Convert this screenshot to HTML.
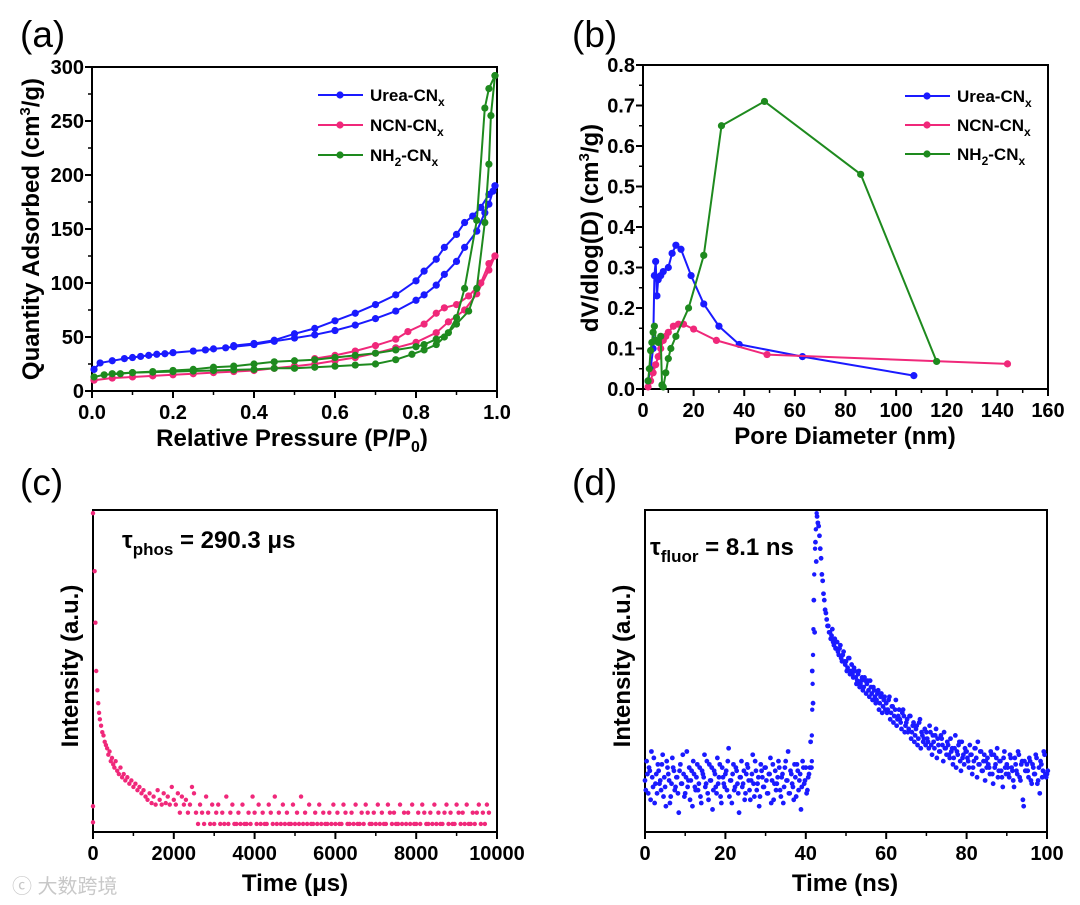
<!DOCTYPE html>
<html><head><meta charset="utf-8"><style>
html,body{margin:0;padding:0;background:#fff;}
svg{display:block;font-family:"Liberation Sans","Noto Sans CJK SC",sans-serif;}
</style></head><body>
<svg id="fig" width="1080" height="905" viewBox="0 0 1080 905" xmlns="http://www.w3.org/2000/svg"></svg>
<script>
// ---------- Panel (a) data ----------
const aTicksX=[0,0.2,0.4,0.6,0.8,1.0];
const aTicksY=[0,50,100,150,200,250,300];
const ureaAdsP=[0.005,0.02,0.05,0.08,0.1,0.12,0.14,0.16,0.18,0.2,0.25,0.28,0.3,0.33,0.35,0.4,0.45,0.5,0.55,0.6,0.65,0.7,0.75,0.8,0.82,0.85,0.87,0.9,0.92,0.95,0.97,0.98,0.99,0.995];
const ureaAdsQ=[20,26,28,30,31,32,33,34,34.5,35.5,37,38,39,40,41,43,46,49,52,56,61,67,74,84,89,98,108,120,133,148,165,173,185,190];
const ureaDesP=[0.995,0.98,0.96,0.94,0.92,0.9,0.87,0.85,0.82,0.8,0.75,0.7,0.65,0.6,0.55,0.5,0.45,0.4,0.35];
const ureaDesQ=[190,182,170,162,156,145,133,122,111,102,89,80,72,65,58,53,47,44,42];
const ncnAdsP=[0.005,0.05,0.1,0.15,0.2,0.25,0.3,0.35,0.4,0.45,0.5,0.55,0.6,0.65,0.7,0.75,0.8,0.85,0.88,0.92,0.95,0.98,0.995];
const ncnAdsQ=[10,12,13,14,15,16,17,18,19,21,23,25,28,31,35,40,45,54,64,75,90,112,125];
const ncnDesP=[0.995,0.98,0.96,0.93,0.9,0.87,0.85,0.82,0.78,0.75,0.7,0.65,0.6,0.55];
const ncnDesQ=[125,118,100,88,80,77,72,62,55,48,42,37,33,30];
const nh2AdsP=[0.005,0.03,0.07,0.1,0.15,0.2,0.25,0.3,0.35,0.4,0.45,0.5,0.55,0.6,0.65,0.7,0.75,0.79,0.82,0.85,0.87,0.9,0.93,0.95,0.97,0.98,0.985,0.995];
const nh2AdsQ=[13,15,16,17,17.5,18,18.5,19,19.5,20,21,21,22,23,24,25,29,34,38,43,50,62,74,95,156,210,255,292];
const nh2DesP=[0.995,0.98,0.97,0.95,0.92,0.9,0.88,0.85,0.82,0.8,0.75,0.7,0.65,0.6,0.55,0.5,0.45,0.4,0.35,0.3,0.25,0.2,0.15,0.1,0.05];
const nh2DesQ=[292,280,262,158,95,68,54,48,43,41,38,35,33,31,29,28,27,25,23,22,20,19,18,17,16];
// ---------- Panel (b) data ----------
const bTicksX=[0,20,40,60,80,100,120,140,160];
const bTicksY=[0,0.1,0.2,0.3,0.4,0.5,0.6,0.7,0.8];
const ureaD=[2,3,4,4.5,5,5.5,6,7,8,10,11.5,13,15,19,24,30,38,63,107];
const ureaV=[0.02,0.05,0.1,0.28,0.315,0.23,0.27,0.28,0.29,0.3,0.335,0.355,0.345,0.28,0.21,0.155,0.11,0.08,0.033];
const ncnD=[2,3,4,5,6,7,8,9,10,12,14,16,20,29,49,144];
const ncnV=[0.005,0.02,0.04,0.06,0.08,0.1,0.12,0.13,0.14,0.155,0.16,0.16,0.148,0.12,0.085,0.062];
const nh2D=[2,2.5,3,3.5,4,4.5,5,6,7,7.5,8,9,10,11,13,18,24,31,48,86,116];
const nh2V=[0.02,0.05,0.095,0.115,0.14,0.155,0.12,0.115,0.13,0.01,0.005,0.04,0.075,0.1,0.13,0.2,0.33,0.65,0.71,0.53,0.068];
// ---------- Panel (c) data ----------
const cTicksX=[0,2000,4000,6000,8000,10000];
const cHeadT=[0,0,0,40,60,80,110,130,150,170,200,230,260,290,320,350,380,410,440,470,500,530,560,600,640,680,720,760,800,850,900,950,1000,1050,1100,1150,1200,1250,1300,1350,1400,1450,1500,1550,1600,1650,1700,1750,1800,1850,1900,1950,2000,2050,2100,2150,2200,2250,2300,2350,2400,2450,2500];
const cHeadI=[99,8,3,81,65,50,44,40,37,35,33,31,30,28,27,26,24,25,22,23,21,20,22,19,18,20,17,18,16,17,15,16,14,15,13,14,12,13,11,10,12,9,11,8.5,13,10,8.5,12,9,11,8.5,14,10,8.5,12,6,11,8.5,10,6,8.5,14,12];
const cTailStart=2550, cTailStep=50;
const cTailI=[6,2.5,8.5,6,2.5,11,6,2.5,8.5,2.5,6,8.5,2.5,6,2.5,11,2.5,6,8.5,2.5,2.5,6,2.5,8.5,2.5,2.5,6,2.5,11,6,2.5,8.5,2.5,6,2.5,2.5,8.5,6,2.5,11,2.5,6,2.5,8.5,2.5,6,2.5,2.5,8.5,2.5,6,2.5,11,2.5,6,2.5,8.5,2.5,2.5,6,2.5,8.5,2.5,6,2.5,2.5,6,2.5,8.5,2.5,6,2.5,2.5,8.5,6,2.5,2.5,6,2.5,8.5,2.5,2.5,6,2.5,8.5,6,2.5,2.5,6,2.5,8.5,2.5,6,2.5,2.5,8.5,6,2.5,6,2.5,2.5,8.5,2.5,6,2.5,6,2.5,8.5,2.5,2.5,6,2.5,8.5,6,2.5,2.5,6,2.5,8.5,2.5,6,2.5,2.5,6,8.5,2.5,6,2.5,2.5,8.5,6,2.5,6,2.5,8.5,2.5,2.5,6,2.5,6,8.5,2.5,6,2.5,8.5,6];
// ---------- Panel (d) data ----------
const dTicksX=[0,20,40,60,80,100];
const dStart=0, dStep=0.4;
const dInt=[16,22,12,19,25,14,9,18,21,15,13,24,17,8,20,16,11,23,19,14,
17,6,21,15,18,12,25,16,10,19,22,14,17,13,20,9,18,24,15,12,
21,16,7,19,14,23,17,11,20,15,18,13,26,16,9,21,14,19,12,17,
22,15,10,18,20,13,16,24,11,19,15,8,21,17,14,20,12,18,23,16,
10,19,15,22,13,17,9,20,16,25,12,18,14,21,11,19,16,7,22,15,
20,13,18,
28,50,72,90,98,95,88,80,74,69,66,
64,62,61,59,60,57,56,57,54,55,53,
53,51,54,50,49,51,48,47,50,46,48,45,47,
46,44,47,43,45,42,41,44,40,43,39,42,
40,38,42,37,39,36,41,35,38,34,37,36,33,
35,32,36,31,34,30,33,29,35,31,28,32,
31,28,33,27,30,26,32,29,25,30,27,31,26,
28,24,29,26,23,30,25,27,22,28,24,26,
25,22,27,24,20,26,23,28,21,25,19,24,22,
23,20,25,18,24,21,26,19,22,17,23,20,
21,18,24,20,16,23,19,25,17,21,10,22,19,
19,23,16,21,18,24,15,20,22,17,25,18,
18];
const dInt2=[13,18,20,10,17,23,15,12,19,16,21,11,14,22,18,9,15,20,13,17,
12,19,15,24,11,17,14,20,16,8,18,13,21,15,11,19,17,14,22,10,
16,20,13,18,12,15,21,9,17,14,19,22,11,16,18,13,20,15,6,17,
14,19,12,21,16,10,18,15,22,13,17,11,19,14,20,16,12,18,9,21,
15,13,17,20,11,18,14,22,16,12,19,15,10,17,21,13,18,14,20,16,
12,17,20,
20,40,62,84,96,92,85,78,72,68,64,
62,60,63,58,57,59,55,58,53,56,52,
50,54,49,52,48,50,46,49,45,47,44,48,43,
47,42,45,41,44,40,43,38,42,37,41,38,
37,41,35,39,34,38,33,36,35,32,38,31,34,
31,36,29,33,28,32,27,34,26,30,29,27,
29,26,31,24,28,30,23,27,25,29,22,26,24,
27,23,25,21,26,20,24,28,19,23,21,25,
23,20,24,18,22,26,17,21,25,19,22,16,20,
21,18,24,15,20,23,17,22,19,14,25,18,
20,17,23,19,14,21,18,24,16,22,8,19,21,
17,22,15,20,18,23,16,12,21,19,24,17,
19];
const dEdgeT=[41.5,41.5,41.6,41.7,41.8,41.9,42.0,42.1,42.3,42.5,42.7];
const dEdgeI=[22,30,38,46,55,63,72,80,88,94,99];

const NS="http://www.w3.org/2000/svg";
const svg=document.getElementById('fig');
function el(tag,attrs,parent,text){const e=document.createElementNS(NS,tag);for(const k in attrs)e.setAttribute(k,attrs[k]);if(text!==undefined)e.textContent=text;(parent||svg).appendChild(e);return e;}
function lin(d0,d1,r0,r1){return v=>r0+(v-d0)/(d1-d0)*(r1-r0);}

function frame(name,L,T,R,B){
  const g=el('g',{});
  
  
  const r=el('rect',{x:L,y:T,width:R-L,height:B-T,fill:'none',stroke:'#000','stroke-width':2},g);
  
  
  return g;
}
function xAxis(g,ticks,sx,B,fmt,minor){
  for(let i=0;i<ticks.length;i++){
    const x=sx(ticks[i]);
    el('line',{x1:x,y1:B,x2:x,y2:B+7,stroke:'#000','stroke-width':2},g);
    const t=el('text',{x:x,y:B+28,'text-anchor':'middle','font-size':20,'font-weight':'bold'},g,fmt(ticks[i]));
    
    
    if(minor&&i<ticks.length-1){const xm=sx((ticks[i]+ticks[i+1])/2);el('line',{x1:xm,y1:B,x2:xm,y2:B+4,stroke:'#000','stroke-width':1.5},g);}
  }
}
function yAxis(g,ticks,sy,L,fmt){
  for(let i=0;i<ticks.length;i++){
    const y=sy(ticks[i]);
    el('line',{x1:L-7,y1:y,x2:L,y2:y,stroke:'#000','stroke-width':2},g);
    const t=el('text',{x:L-8,y:y+7,'text-anchor':'end','font-size':20,'font-weight':'bold'},g,fmt(ticks[i]));
    
    
    if(i<ticks.length-1){const ym=sy((ticks[i]+ticks[i+1])/2);el('line',{x1:L-4,y1:ym,x2:L,y2:ym,stroke:'#000','stroke-width':1.5},g);}
  }
}
function series(g,name,xs,ys,sx,sy,color){
  const s=el('g',{},g);
  
  
  const pts=xs.map((x,i)=>sx(x).toFixed(1)+','+sy(ys[i]).toFixed(1)).join(' ');
  el('polyline',{points:pts,fill:'none',stroke:color,'stroke-width':2},s);
  xs.forEach((x,i)=>{el('circle',{cx:sx(x),cy:sy(ys[i]),r:3.6,fill:color},s);});
}
function legend(g,x,y,gap){
  const items=[['Urea-CN','','#1a1aff'],['NCN-CN','','#f0287a'],['NH','2','#1e8a1e']];
  items.forEach((it,i)=>{
    const lg=el('g',{},g);
    
    
    const yy=y+i*gap;
    el('line',{x1:x,y1:yy,x2:x+45,y2:yy,stroke:it[2],'stroke-width':2},lg);
    el('circle',{cx:x+22,cy:yy,r:3.6,fill:it[2]},lg);
    const t=el('text',{x:x+52,y:yy+6,'font-size':17,'font-weight':'bold'},lg);
    if(it[1]){el('tspan',{},t,'NH');el('tspan',{'font-size':12,dy:5},t,'2');el('tspan',{dy:-5},t,'-CN');}
    else el('tspan',{},t,it[0]);
    el('tspan',{'font-size':12,dy:5},t,'x');
  });
}
function label(txt,x,y){const t=el('text',{x:x,y:y,'font-size':37,'font-weight':'normal'},svg,txt);}

// ===== Panel a =====
(function(){
  const L=92,R=497,T=67,B=391;
  const sx=lin(0,1,L,R), sy=lin(0,300,B,T);
  const g=frame('panel-a-isotherm',L,T,R,B);
  xAxis(g,aTicksX,sx,B,v=>v.toFixed(1),true);
  yAxis(g,aTicksY,sy,L,v=>String(v));
  series(g,'urea-adsorption',ureaAdsP,ureaAdsQ,sx,sy,'#1a1aff');
  series(g,'urea-desorption',ureaDesP,ureaDesQ,sx,sy,'#1a1aff');
  series(g,'ncn-adsorption',ncnAdsP,ncnAdsQ,sx,sy,'#f0287a');
  series(g,'ncn-desorption',ncnDesP,ncnDesQ,sx,sy,'#f0287a');
  series(g,'nh2-adsorption',nh2AdsP,nh2AdsQ,sx,sy,'#1e8a1e');
  series(g,'nh2-desorption',nh2DesP,nh2DesQ,sx,sy,'#1e8a1e');
  legend(g,318,95,30);
  const xt=el('text',{x:292,y:446,'text-anchor':'middle','font-size':24,'font-weight':'bold'},g);
  
  el('tspan',{},xt,'Relative Pressure (P/P');el('tspan',{'font-size':16,dy:6},xt,'0');el('tspan',{dy:-6},xt,')');
  const yt=el('text',{transform:'translate(39,229) rotate(-90)','text-anchor':'middle','font-size':24,'font-weight':'bold'},g);
  
  el('tspan',{},yt,'Quantity Adsorbed (cm');el('tspan',{'font-size':15,dy:-9},yt,'3');el('tspan',{dy:9},yt,'/g)');
})();
label('(a)',20,47);

// ===== Panel b =====
(function(){
  const L=643,R=1048,T=65,B=389;
  const sx=lin(0,160,L,R), sy=lin(0,0.8,B,T);
  const g=frame('panel-b-pore-distribution',L,T,R,B);
  xAxis(g,bTicksX,sx,B,v=>String(v),true);
  yAxis(g,bTicksY,sy,L,v=>v.toFixed(1));
  series(g,'urea-pore',ureaD,ureaV,sx,sy,'#1a1aff');
  series(g,'ncn-pore',ncnD,ncnV,sx,sy,'#f0287a');
  series(g,'nh2-pore',nh2D,nh2V,sx,sy,'#1e8a1e');
  legend(g,905,96,29);
  const xt=el('text',{x:845,y:444,'text-anchor':'middle','font-size':24,'font-weight':'bold'},g,'Pore Diameter (nm)');
  
  const yt=el('text',{transform:'translate(598,228) rotate(-90)','text-anchor':'middle','font-size':24,'font-weight':'bold'},g);
  
  el('tspan',{},yt,'dV/dlog(D) (cm');el('tspan',{'font-size':15,dy:-9},yt,'3');el('tspan',{dy:9},yt,'/g)');
})();
label('(b)',572,47);

// ===== Panel c =====
(function(){
  const L=93,R=497,T=510,B=832;
  const sx=lin(0,10000,L,R), sy=lin(0,100,B,T);
  const g=frame('panel-c-phosphorescence',L,T,R,B);
  xAxis(g,cTicksX,sx,B,v=>String(v),true);
  const s=el('g',{},g);
  
  
  cHeadT.forEach((t,i)=>el('circle',{cx:sx(t),cy:sy(cHeadI[i]),r:2.2,fill:'#f0287a'},s));
  cTailI.forEach((v,i)=>el('circle',{cx:sx(cTailStart+i*cTailStep),cy:sy(v),r:2.2,fill:'#f0287a'},s));
  const a=el('text',{x:122,y:548,'font-size':24,'font-weight':'bold'},g);
  
  el('tspan',{},a,'τ');el('tspan',{'font-size':17,dy:7},a,'phos');el('tspan',{dy:-7},a,' = 290.3 μs');
  const xt=el('text',{x:295,y:891,'text-anchor':'middle','font-size':24,'font-weight':'bold'},g,'Time (μs)');
  
  const yt=el('text',{transform:'translate(78,666) rotate(-90)','text-anchor':'middle','font-size':24,'font-weight':'bold'},g,'Intensity (a.u.)');
  
})();
label('(c)',20,495);

// ===== Panel d =====
(function(){
  const L=645,R=1047,T=510,B=832;
  const sx=lin(0,100,L,R), sy=lin(0,100,B,T);
  const g=frame('panel-d-fluorescence',L,T,R,B);
  xAxis(g,dTicksX,sx,B,v=>String(v),true);
  const s=el('g',{},g);
  
  
  dInt.forEach((v,i)=>el('circle',{cx:sx(dStart+i*dStep),cy:sy(v),r:2.4,fill:'#1a1aff'},s));
  dInt2.forEach((v,i)=>el('circle',{cx:sx(dStart+(i+0.5)*dStep),cy:sy(v),r:2.4,fill:'#1a1aff'},s));
  dEdgeT.forEach((t,i)=>el('circle',{cx:sx(t),cy:sy(dEdgeI[i]),r:2.2,fill:'#1a1aff'},s));
  const a=el('text',{x:650,y:555,'font-size':24,'font-weight':'bold'},g);
  
  el('tspan',{},a,'τ');el('tspan',{'font-size':17,dy:7},a,'fluor');el('tspan',{dy:-7},a,' = 8.1 ns');
  const xt=el('text',{x:845,y:891,'text-anchor':'middle','font-size':24,'font-weight':'bold'},g,'Time (ns)');
  
  const yt=el('text',{transform:'translate(630,666) rotate(-90)','text-anchor':'middle','font-size':24,'font-weight':'bold'},g,'Intensity (a.u.)');
  
})();
label('(d)',572,495);

const wm=el('text',{x:12,y:893,'font-size':20,fill:'#c8c8c8'},svg,'ⓒ 大数跨境');


</script>
</body></html>
